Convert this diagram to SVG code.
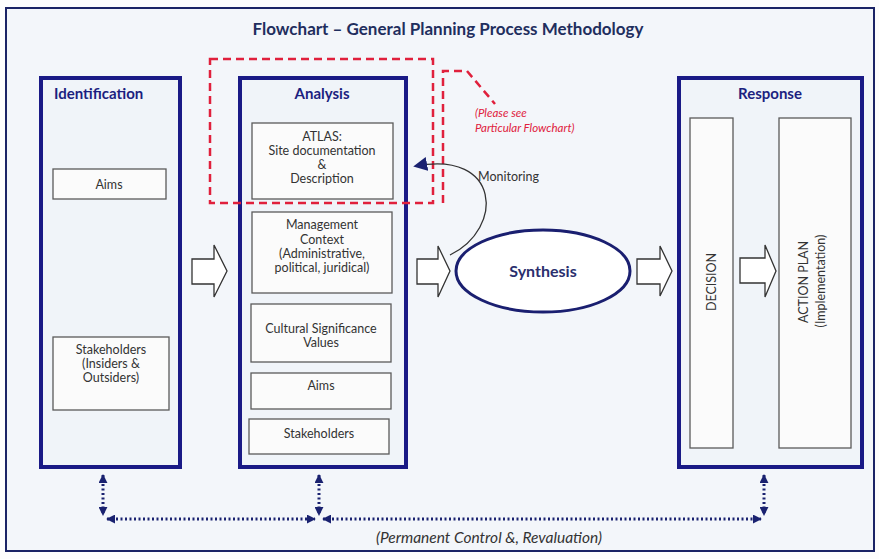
<svg xmlns="http://www.w3.org/2000/svg" width="879" height="559" viewBox="0 0 879 559">
<defs>
<style>
.frame{fill:#f3f6fa;stroke:#1b2466;stroke-width:2}
.col{fill:#f0f4f9;stroke:#1a1a86;stroke-width:4}
.box{fill:#fbfbfb;stroke:#5a5a5a;stroke-width:1.3}
.blk{fill:#ffffff;stroke:#333;stroke-width:1.3}
.head{font-family:Lato,"Liberation Sans",sans-serif;font-weight:bold;font-size:15px;fill:#1c1f80}
.t{font-family:Lato,"Liberation Sans",sans-serif;font-size:12.5px;fill:#333;text-anchor:middle}
.red{fill:none;stroke:#e0203c;stroke-width:2.5;stroke-dasharray:8,5}
.redt{font-family:Lato,"Liberation Sans",sans-serif;font-style:italic;font-size:11.5px;fill:#e0203c}
.dot{fill:none;stroke:#1a2270;stroke-width:3;stroke-dasharray:2,2.5;marker-start:url(#ah);marker-end:url(#ah)}
</style>
<marker id="ah" viewBox="0 0 10 10" refX="9" refY="5" markerWidth="3" markerHeight="3" orient="auto-start-reverse" markerUnits="strokeWidth">
<path d="M0,0 L10,5 L0,10 Z" fill="#1a2270"/>
</marker>
<marker id="mon" viewBox="0 0 10 10" refX="8" refY="5" markerWidth="14" markerHeight="14" orient="auto" markerUnits="userSpaceOnUse">
<path d="M0,0 L10,5 L0,10 Z" fill="#1a2270"/>
</marker>
</defs>
<rect x="0" y="0" width="879" height="559" fill="#fdfdfd"/>
<rect class="frame" x="6" y="8" width="868" height="543"/>
<text x="448" y="35" text-anchor="middle" font-family="Lato,'Liberation Sans',sans-serif" font-weight="bold" font-size="17" fill="#1f2e5e">Flowchart – General Planning Process Methodology</text>

<g id="identification">
<rect class="col" x="41" y="78" width="139" height="389"/>
<text class="head" x="54" y="99">Identification</text>
</g>
<g id="id-aims">
<rect class="box" x="53" y="169" width="113" height="30"/>
<text class="t" x="109" y="189">Aims</text>
</g>
<g id="id-stakeholders">
<rect class="box" x="53" y="337" width="116" height="73"/>
<text class="t" x="111" y="354">Stakeholders</text>
<text class="t" x="111" y="368" font-size="11">(Insiders &amp;</text>
<text class="t" x="111" y="382" font-size="11">Outsiders)</text>
</g>

<g id="analysis">
<rect class="col" x="240" y="78" width="166" height="389"/>
<text class="head" x="322" y="99" text-anchor="middle">Analysis</text>
</g>
<g id="atlas">
<rect class="box" x="252" y="123" width="141" height="76"/>
<text class="t" x="322" y="141">ATLAS:</text>
<text class="t" x="322" y="155">Site documentation</text>
<text class="t" x="322" y="169">&amp;</text>
<text class="t" x="322" y="183">Description</text>
</g>
<g id="management">
<rect class="box" x="252" y="212" width="140" height="81"/>
<text class="t" x="322" y="229">Management</text>
<text class="t" x="322" y="244">Context</text>
<text class="t" x="322" y="258">(Administrative,</text>
<text class="t" x="322" y="272">political, juridical)</text>
</g>
<g id="cultural">
<rect class="box" x="251" y="304" width="140" height="58"/>
<text class="t" x="321" y="333">Cultural Significance</text>
<text class="t" x="321" y="347">Values</text>
</g>
<g id="an-aims">
<rect class="box" x="251" y="373" width="140" height="36"/>
<text class="t" x="321" y="390">Aims</text>
</g>
<g id="an-stakeholders">
<rect class="box" x="249" y="419" width="140" height="35"/>
<text class="t" x="319" y="438">Stakeholders</text>
</g>

<g id="atlas-highlight">
<rect class="red" x="210" y="59" width="223" height="144"/>
<path class="red" d="M443,203 L443,71 L467,71 L495,104"/>
<text class="redt" x="475" y="117">(Please see</text>
<text class="redt" x="475" y="132">Particular Flowchart)</text>
</g>

<g id="synthesis">
<ellipse cx="543" cy="271" rx="87" ry="41" fill="#ffffff" stroke="#1a1f70" stroke-width="3"/>
<text x="543" y="277" text-anchor="middle" font-family="Lato,'Liberation Sans',sans-serif" font-weight="bold" font-size="16" fill="#2a2f6e">Synthesis</text>
</g>

<g id="response">
<rect class="col" x="679" y="78" width="183" height="389"/>
<text class="head" x="770" y="99" text-anchor="middle">Response</text>
</g>
<g id="decision">
<rect class="box" x="690" y="118" width="43" height="330"/>
<text class="t" transform="translate(716,282) rotate(-90)" font-size="13">DECISION</text>
</g>
<g id="action-plan">
<rect class="box" x="779" y="118" width="72" height="330"/>
<text class="t" transform="translate(808,282) rotate(-90)" font-size="13.5">ACTION PLAN</text>
<text class="t" transform="translate(825,281) rotate(-90)" font-size="10">(Implementation)</text>
</g>

<g id="connectors">
<polygon class="blk" points="192,259 214,259 214,245 227,271 214,297 214,284 192,284"/>
<polygon class="blk" points="417,259 438,259 438,246 450,271 438,297 438,284 417,284"/>
<polygon class="blk" points="637,259 660,259 660,246 672,271 660,296 660,284 637,284"/>
<polygon class="blk" points="740,258 765,258 765,245 776,271 765,297 765,283 740,283"/>
<path d="M450,255 C505,228 500,150 416,166" fill="none" stroke="#333" stroke-width="1.3" marker-end="url(#mon)"/>
<text x="478" y="181" font-family="Lato,'Liberation Sans',sans-serif" font-size="12.5" fill="#333">Monitoring</text>
<line class="dot" x1="103" y1="475" x2="103" y2="515"/>
<line class="dot" x1="319" y1="475" x2="319" y2="515"/>
<line class="dot" x1="764" y1="475" x2="764" y2="515"/>
<line class="dot" x1="107" y1="519" x2="315" y2="519"/>
<line class="dot" x1="323" y1="519" x2="761" y2="519"/>
<text x="489" y="543" text-anchor="middle" font-family="Lato,'Liberation Sans',sans-serif" font-style="italic" font-size="15.5" fill="#333">(Permanent Control &amp;, Revaluation)</text>
</g>
</svg>
